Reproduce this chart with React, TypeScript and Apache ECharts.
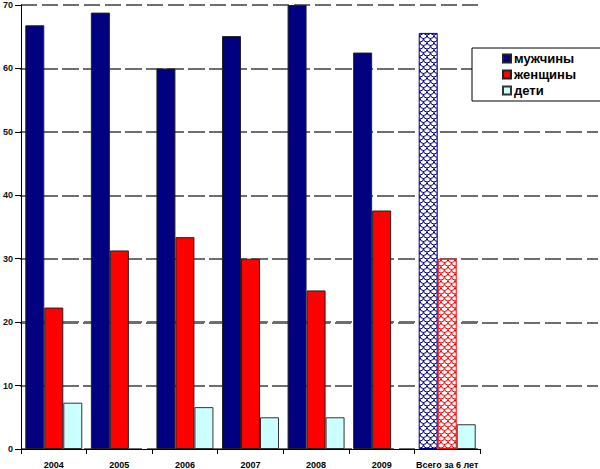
import { useEffect, useRef } from "react";
import * as echarts from "echarts";

const categories = ["2004", "2005", "2006", "2007", "2008", "2009", "Всего за 6 лет"];
const men = [66.8, 68.8, 60.0, 65.1, 70.0, 62.5, 65.6];
const women = [22.3, 31.3, 33.4, 30.0, 25.0, 37.6, 30.0];
// no bar drawn for 2005 and 2009
const children = [7.3, null, 6.6, 5.0, 5.0, null, 3.9];
const yTicks = [0, 10, 20, 30, 40, 50, 60, 70];

const FONT = "Tahoma, 'Liberation Sans', Arial, sans-serif";

// fish-scale hatch used for the "total" column
const makePattern = (color: string) => {
  const c = document.createElement("canvas");
  c.width = 7;
  c.height = 7;
  const ctx = c.getContext("2d")!;
  ctx.fillStyle = "#fff";
  ctx.fillRect(0, 0, 7, 7);
  ctx.strokeStyle = color;
  ctx.lineWidth = 1;
  ctx.beginPath();
  ctx.arc(3.5, 0, 3.5, 0, Math.PI);
  ctx.stroke();
  ctx.beginPath();
  ctx.arc(0, 3.5, 3.5, 0, Math.PI);
  ctx.stroke();
  ctx.beginPath();
  ctx.arc(7, 3.5, 3.5, 0, Math.PI);
  ctx.stroke();
  return c;
};

const withTotal = (values: number[], pattern: any, border: string) =>
  values.map((v, i) =>
    i === values.length - 1
      ? { value: v, itemStyle: { color: { image: pattern, repeat: "repeat" }, borderColor: border } }
      : v
  );

export default function App() {
  const ref = useRef<HTMLDivElement | null>(null);

  useEffect(() => {
    document.body.style.margin = "0";
    if (!ref.current) return;
    const chart = echarts.init(ref.current, undefined, { renderer: "svg" });
    const navyPat = makePattern("#000080");
    const redPat = makePattern("#ff0000");
    const dash = { color: "#6e6e6e", width: 2, type: [16, 5] as any };
    const top = 5;
    const bottom = 19.5;
    const step = (469 - top - bottom) / 7;

    chart.setOption({
      animation: false,
      backgroundColor: "#fff",
      grid: [
        { left: 20, right: 120, top, bottom, containLabel: false },
        // gridlines 10..60 run on past the plot to the right edge
        { left: 20, right: 2, top: top + step, bottom: bottom + step, containLabel: false },
      ],
      legend: {
        orient: "vertical",
        left: 472,
        top: 48,
        padding: [4, 30, 4, 30],
        icon: "rect",
        itemWidth: 8,
        itemHeight: 8,
        itemGap: 3,
        backgroundColor: "#fff",
        borderColor: "#000",
        borderWidth: 1,
        textStyle: { fontFamily: FONT, fontSize: 13, fontWeight: "bold", color: "#000", lineHeight: 13, padding: [0, 0, 0, -2] },
        data: ["мужчины", "женщины", "дети"],
      },
      xAxis: [
        {
          type: "category",
          gridIndex: 0,
          data: categories,
          axisLine: { lineStyle: { color: "#000", width: 1 } },
          axisTick: { show: true, interval: 0, length: 5, lineStyle: { color: "#000" } },
          axisLabel: { interval: 0, fontFamily: FONT, fontSize: 9, fontWeight: "bold", color: "#000", margin: 11 },
        },
        { type: "value", gridIndex: 1, show: false },
      ],
      yAxis: [
        {
          type: "value",
          gridIndex: 0,
          min: yTicks[0],
          max: yTicks[yTicks.length - 1],
          interval: 10,
          axisLine: { show: true, lineStyle: { color: "#000", width: 1 } },
          axisTick: { show: true, length: 6, lineStyle: { color: "#000" } },
          axisLabel: { fontFamily: FONT, fontSize: 9, fontWeight: "bold", color: "#111", margin: 8 },
          splitLine: { show: true, lineStyle: dash },
        },
        {
          type: "value",
          gridIndex: 1,
          min: yTicks[1],
          max: yTicks[yTicks.length - 2],
          interval: 10,
          axisLine: { show: false },
          axisTick: { show: false },
          axisLabel: { show: false },
          splitLine: { show: true, lineStyle: dash },
        },
      ],
      series: [
        {
          name: "мужчины",
          type: "bar",
          barWidth: 19,
          barGap: "0%",
          itemStyle: { color: "#000080", borderColor: "#222", borderWidth: 1 },
          data: withTotal(men, navyPat, "#000080"),
        },
        {
          name: "женщины",
          type: "bar",
          barWidth: 19,
          barGap: "0%",
          itemStyle: { color: "#ff0000", borderColor: "#222", borderWidth: 1 },
          data: withTotal(women, redPat, "#ff0000"),
        },
        {
          name: "дети",
          type: "bar",
          barWidth: 19,
          barGap: "0%",
          itemStyle: { color: "#ccffff", borderColor: "#333", borderWidth: 1 },
          data: children.map((v) => (v === null ? "-" : v)),
        },
      ],
    });

    return () => chart.dispose();
  }, []);

  return <div ref={ref} style={{ width: 600, height: 469 }} />;
}
